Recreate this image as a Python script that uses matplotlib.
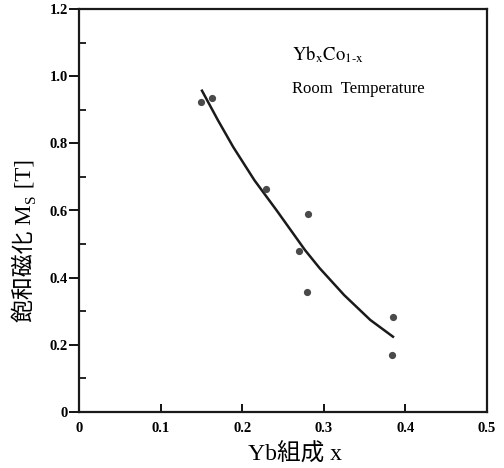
import matplotlib
matplotlib.use("Agg")
import matplotlib.pyplot as plt
from matplotlib.ticker import MultipleLocator, FixedFormatter, FixedLocator

# measured points (Yb content x, saturation magnetisation Ms [T])
yb_x = [0.150, 0.163, 0.229, 0.281, 0.269, 0.279, 0.385, 0.383]
ms_t = [0.923, 0.935, 0.664, 0.591, 0.479, 0.358, 0.283, 0.171]

# fitted curve
fit_x = [0.150, 0.170, 0.189, 0.215, 0.242, 0.277, 0.295, 0.325, 0.357, 0.386]
fit_y = [0.960, 0.870, 0.789, 0.690, 0.601, 0.482, 0.428, 0.348, 0.274, 0.222]

x_ticks = [0, 0.1, 0.2, 0.3, 0.4, 0.5]
x_labels = ["0", "0.1", "0.2", "0.3", "0.4", "0.5"]
y_ticks = [0, 0.2, 0.4, 0.6, 0.8, 1.0, 1.2]
y_labels = ["0", "0.2", "0.4", "0.6", "0.8", "1.0", "1.2"]

plt.rcParams["font.family"] = ["Liberation Serif", "Noto Sans CJK JP"]
plt.rcParams["mathtext.fontset"] = "stix"

W, H = 504, 468
fig = plt.figure(figsize=(W / 100, H / 100), dpi=100)
ax = fig.add_axes([79 / W, 56 / H, 408 / W, 403 / H])

ax.plot(fit_x, fit_y, color="#1a1a1a", lw=1.8, solid_capstyle="butt")
ax.plot(yb_x, ms_t, "o", color="#4a4a4a", markersize=5.2, markeredgewidth=0)

ax.set_xlim(0, 0.5)
ax.set_ylim(0, 1.2)
ax.xaxis.set_major_locator(FixedLocator(x_ticks))
ax.xaxis.set_major_formatter(FixedFormatter(x_labels))
ax.yaxis.set_major_locator(FixedLocator(y_ticks))
ax.yaxis.set_major_formatter(FixedFormatter(y_labels))
ax.yaxis.set_minor_locator(MultipleLocator(0.1))

for s in ax.spines.values():
    s.set_linewidth(1.6)
    s.set_color("#1a1a1a")

ax.tick_params(axis="x", which="major", direction="in", length=6, width=1.3,
               pad=7, labelsize=10.5)
ax.tick_params(axis="y", which="major", direction="out", length=7, width=1.3,
               pad=1, labelsize=10.5)
ax.tick_params(axis="y", which="minor", direction="in", length=5, width=1.2)
for lab in ax.get_xticklabels() + ax.get_yticklabels():
    lab.set_fontweight("bold")

ax.text(0.261, 1.048, r"$\mathrm{Yb_{x}Co_{1\text{-}x}}$", fontsize=13.5,
        ha="left", va="baseline")
ax.text(0.261, 0.949, "Room  Temperature", fontsize=12, ha="left",
        va="baseline")

fig.text(295 / W, 1 - 455 / H, "Yb組成 x", fontsize=17, ha="center",
         va="center")

# y label built from pieces so the CJK text can fall back to a CJK font
fig.canvas.draw()
r = fig.canvas.get_renderer()
bx, by = 31, H - 322
parts = [("飽和磁化 M", 16.5, 0), ("S", 11, 4), (" [T]", 16.5, 0)]
for txt, size, shift in parts:
    t = fig.text((bx + shift) / W, by / H, txt, fontsize=size, rotation=90,
                 rotation_mode="anchor", ha="left", va="baseline")
    by = t.get_window_extent(r).y1 + 1

fig.savefig("out.png", dpi=100)
